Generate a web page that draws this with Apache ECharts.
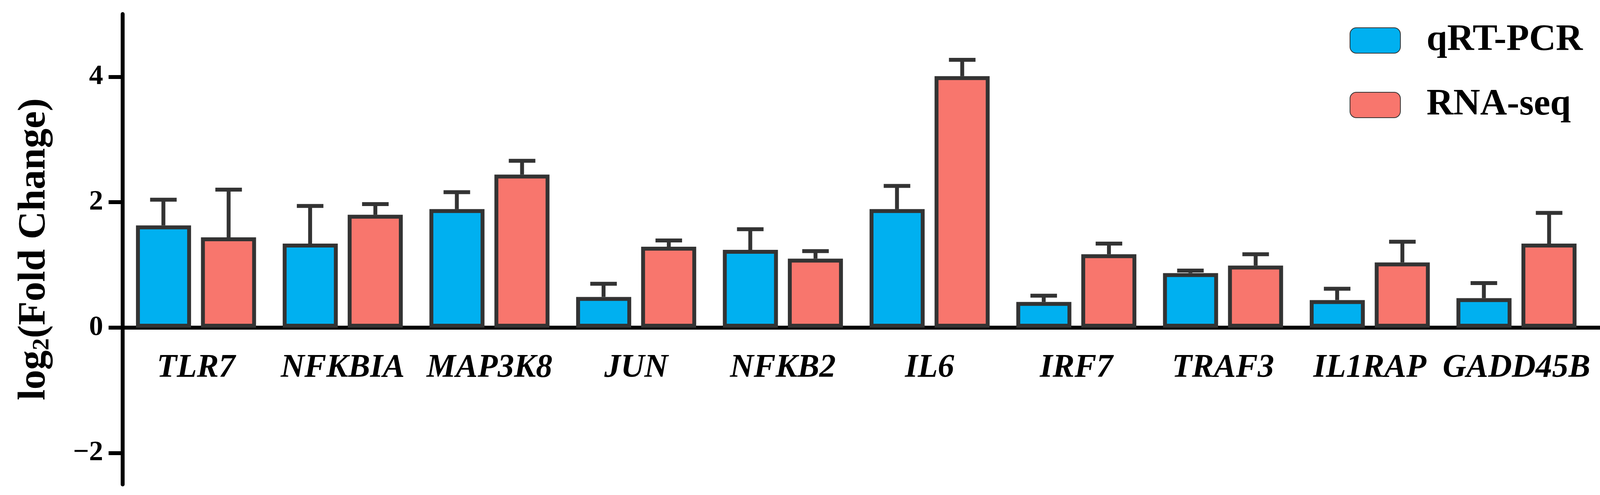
<!DOCTYPE html>
<html><head><meta charset="utf-8">
<script src="https://cdn.jsdelivr.net/npm/echarts@6/dist/echarts.min.js"></script>
<style>html,body{margin:0;padding:0;background:#fff}#c{width:4176px;height:1266px}</style>
</head><body><div id="c"></div>
<script>
const categories = ['TLR7','NFKBIA','MAP3K8','JUN','NFKB2','IL6','IRF7','TRAF3','IL1RAP','GADD45B'];
const qpcr = [1.63,1.34,1.89,0.49,1.24,1.89,0.41,0.87,0.44,0.47];
const qpcrErrTop = [2.04,1.94,2.16,0.70,1.57,2.26,0.51,0.91,0.62,0.71];
const rnaseq = [1.44,1.80,2.44,1.29,1.10,4.01,1.17,0.99,1.04,1.34];
const rnaseqErrTop = [2.20,1.97,2.66,1.39,1.22,4.27,1.34,1.17,1.37,1.83];
const yTicks = [-2,0,2,4];

const font = 'Liberation Serif';
const chart = echarts.init(document.getElementById('c'));
function errSeries(tops, vals, offset){
  return {
    type:'custom', z:1,
    data: tops.map((t,i)=>[i,vals[i],t]),
    renderItem(params, api){
      const base = api.coord([api.value(0), api.value(1)]);
      const top = api.coord([api.value(0), api.value(2)]);
      const x = base[0]+offset;
      const st = {stroke:'#333', lineWidth:10};
      return {type:'group', children:[
        {type:'line', shape:{x1:x,y1:base[1],x2:x,y2:top[1]}, style:st},
        {type:'line', shape:{x1:x-34,y1:top[1],x2:x+34,y2:top[1]}, style:st}
      ]};
    }
  };
}
const gridTop = 36, gridBottom = 27, yMin = -2.5, yMax = 5;
const zeroOffset = (1266-gridTop-gridBottom) * (0 - yMin) / (yMax - yMin);
chart.setOption({
  animation:false,
  grid:{left:314,right:106,top:gridTop,bottom:gridBottom},
  legend:{
    left:3455,top:56,orient:'vertical',itemWidth:129,itemHeight:65,itemGap:70,padding:0,
    textStyle:{fontFamily:font,fontWeight:'bold',fontSize:95,color:'#000',padding:[0,0,0,62]},
    data:['qRT-PCR','RNA-seq']
  },
  xAxis:{
    type:'category', data:categories, position:'bottom', offset:-zeroOffset,
    axisLine:{onZero:false,lineStyle:{color:'#000',width:10}},
    axisTick:{alignWithLabel:true,length:35,lineStyle:{color:'#000',width:10}},
    axisLabel:{interval:0,fontFamily:font,fontStyle:'italic',fontWeight:'bold',fontSize:84,color:'#000',margin:62}
  },
  yAxis:{
    type:'value', min:yMin, max:yMax,
    splitLine:{show:false},
    axisLine:{show:true,lineStyle:{color:'#000',width:10}},
    axisTick:{show:true,length:36,customValues:yTicks,lineStyle:{color:'#000',width:10}},
    axisLabel:{customValues:yTicks,fontFamily:font,fontWeight:'bold',fontSize:72,color:'#000',margin:50,
      formatter:v=>v<0?'\u2212'+Math.abs(v):String(v)},
    name:'{a|log}{s|2}{a|(Fold Change)}', nameLocation:'middle', nameGap:175, nameRotate:90,
    nameTextStyle:{rich:{a:{fontFamily:font,fontWeight:'bold',fontSize:100,color:'#000'},
      s:{fontFamily:font,fontWeight:'bold',fontSize:62,color:'#000',padding:[40,0,0,0]}}}
  },
  series:[
    errSeries(qpcrErrTop,qpcr,-83.5),
    errSeries(rnaseqErrTop,rnaseq,83.5),
    {name:'qRT-PCR',type:'bar',data:qpcr,barWidth:141,barGap:'18%',z:2,
      itemStyle:{color:'#00B0F0',borderColor:'#333',borderWidth:10}},
    {name:'RNA-seq',type:'bar',data:rnaseq,barWidth:141,z:2,
      itemStyle:{color:'#F8766D',borderColor:'#333',borderWidth:10}}
  ]
});
const p = chart.convertToPixel({gridIndex:0},[categories.length-1,0]);
chart.setOption({graphic:[{type:'line',shape:{x1:4065,y1:p[1],x2:4124,y2:p[1]},style:{stroke:'#000',lineWidth:10}}]});
</script></body></html>
